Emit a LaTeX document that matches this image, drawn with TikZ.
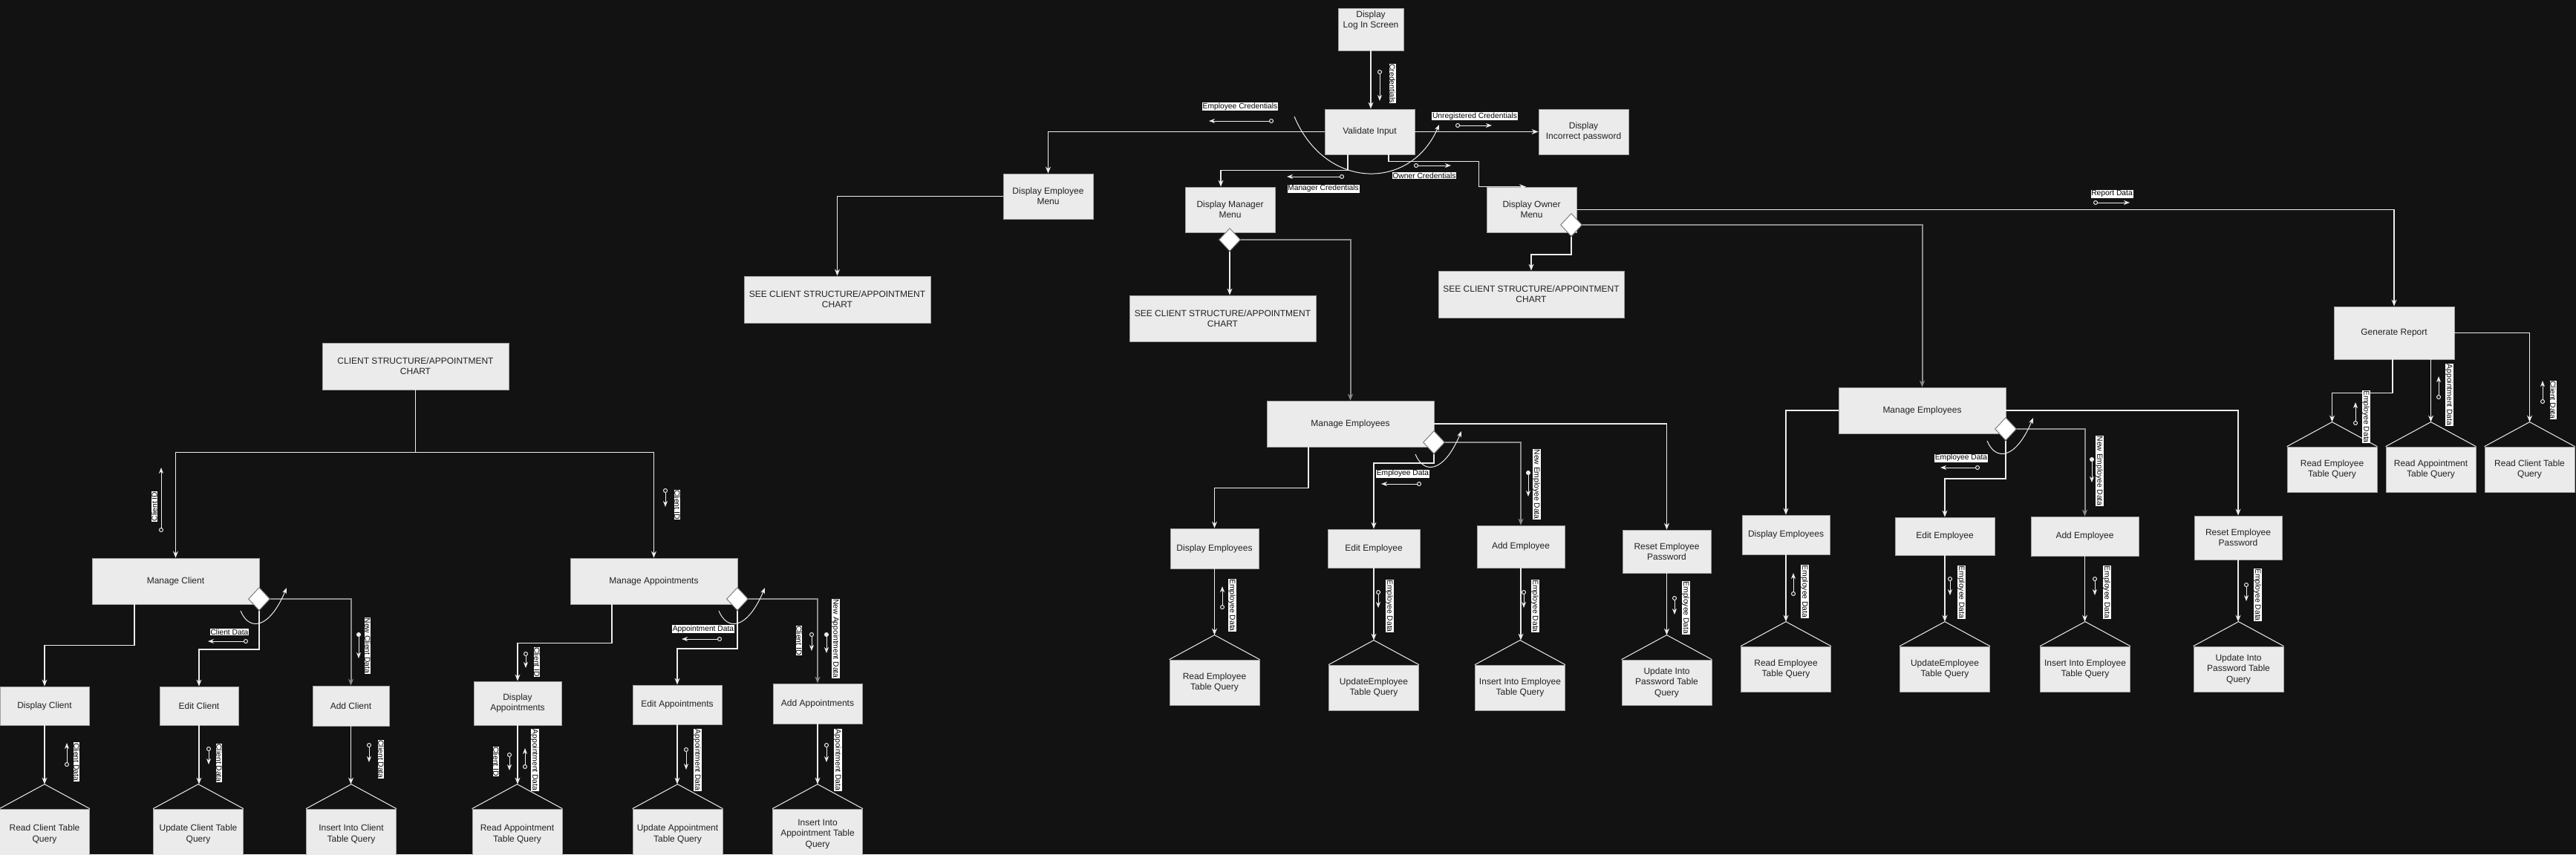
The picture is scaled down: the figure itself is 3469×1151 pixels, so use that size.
\documentclass[tikz,border=0pt]{standalone}
\usepackage{fontspec}
\setmainfont{Liberation Sans}
\usetikzlibrary{arrows.meta,shapes.geometric}
\definecolor{bgdark}{HTML}{121212}
\definecolor{boxfill}{HTML}{EBEBEB}
\definecolor{boxedge}{HTML}{A0A0A0}
\definecolor{boxtext}{HTML}{222222}
\definecolor{wire}{HTML}{EDEDED}
\definecolor{wiregray}{HTML}{8C8C8C}

\begin{document}
\begin{tikzpicture}[x=1pt, y=-1pt,
  box/.style 2 args={rectangle, fill=boxfill, draw=boxedge, line width=0.8pt, text=boxtext, align=center, inner sep=2pt, font=\fontsize{12}{14.4}\selectfont, minimum width=#1pt, minimum height=#2pt},
  query/.style={box={121}{61}},
  lowquery/.style={box={121}{68}},
  dia/.style={diamond, fill=white, draw=gray, line width=1pt, inner sep=0pt, minimum width=29pt, minimum height=31pt},
  tri/.style={draw=wire, line width=1pt},
  flow/.style={draw=wire, line width=1.2pt, -{Stealth[length=9pt,width=7pt,inset=3pt]}},
  thickflow/.style={flow, draw=wiregray, line width=2pt},
  iter/.style={draw=wire, line width=1pt, -{Stealth[length=8pt,width=6pt,inset=2.5pt]}},
  couple/.style={draw=wire, line width=1pt, {Circle[open,length=6pt,width=6pt]}-{Stealth[length=8pt,width=6pt,inset=2.5pt]}},
  flag/.style={draw=wire, line width=1pt, {Circle[length=6pt,width=6pt]}-{Stealth[length=8pt,width=6pt,inset=2.5pt]}},
  lbl/.style={fill=white, text=black, inner sep=0.7pt, font=\fontsize{10.3}{12}\selectfont}]

\useasboundingbox (0,0) rectangle (3469,1151);
\fill[bgdark] (0,0) rectangle (3469,1151);

\node[box={88}{57}, text depth=27pt] (login) at (1846,39.5) {Display\\Log In Screen};
\node[box={121}{61}] (validate) at (1844.5,177.5) {Validate Input};
\node[box={121}{61}] (incorrect) at (2132.5,177.5) {Display\\Incorrect password};
\node[box={121}{61}] (empmenu) at (1411.5,264.5) {Display Employee\\Menu};
\node[box={121}{61}] (mgrmenu) at (1656.5,282.5) {Display Manager\\Menu};
\node[box={121}{61}] (ownmenu) at (2062.5,282.5) {Display Owner\\Menu};
\node[box={251}{63}] (see1) at (1127.5,403.5) {SEE CLIENT STRUCTURE/APPOINTMENT\\CHART};
\node[box={251}{62}] (see2) at (1646.5,429) {SEE CLIENT STRUCTURE/APPOINTMENT\\CHART};
\node[box={250}{63}] (see3) at (2062,396.5) {SEE CLIENT STRUCTURE/APPOINTMENT\\CHART};
\node[dia] (mgrdia) at (1656,323) {};
\node[dia] (owndia) at (2116,303) {};
\node[box={162}{71}] (generate) at (3224,448.5) {Generate Report};
\node[query] (rptemp) at (3140.5,632.5) {Read Employee\\Table Query};
\node[query] (rptappt) at (3273.5,632.5) {Read Appointment\\Table Query};
\node[query] (rptclient) at (3406.5,632.5) {Read Client Table\\Query};

\node[box={251}{63}] (csa) at (559.5,493.5) {CLIENT STRUCTURE/APPOINTMENT\\CHART};
\node[box={225}{62}] (mclient) at (236.5,783) {Manage Client};
\node[box={225}{62}] (mappt) at (880.5,783) {Manage Appointments};
\node[dia] (cdia) at (349,807) {};
\node[dia] (adia) at (993,807) {};
\node[box={120}{52}] (dclient) at (60,951) {Display Client};
\node[box={106}{52}] (eclient) at (268,951) {Edit Client};
\node[box={103}{54}] (aclient) at (472.5,951) {Add Client};
\node[box={118}{59}] (dappt) at (697,947.5) {Display\\Appointments};
\node[box={120}{53}] (eappt) at (912,949.5) {Edit Appointments};
\node[box={120}{54}] (aappt) at (1101,948) {Add Appointments};
\node[lowquery] (qrclient) at (60,1124) {Read Client Table\\Query};
\node[lowquery] (quclient) at (267,1124) {Update Client Table\\Query};
\node[lowquery] (qiclient) at (473,1124) {Insert Into Client\\Table Query};
\node[lowquery] (qrappt) at (696.5,1124) {Read Appointment\\Table Query};
\node[lowquery] (quappt) at (912.5,1124) {Update Appointment\\Table Query};
\node[lowquery] (qiappt) at (1101,1124) {Insert Into\\Appointment Table\\Query};

\node[box={225}{62}] (memp) at (1818.5,571) {Manage Employees};
\node[dia] (mdia) at (1931,596) {};
\node[box={119}{54}] (demp) at (1635.5,739) {Display Employees};
\node[box={124}{52}] (eemp) at (1850,739) {Edit Employee};
\node[box={118}{57}] (aemp) at (2048,736.5) {Add Employee};
\node[box={119}{58}] (remp) at (2244.5,743) {Reset Employee\\Password};
\node[query] (qremp) at (1635.5,919.5) {Read Employee\\Table Query};
\node[query] (queemp) at (1850,926.5) {UpdateEmployee\\Table Query};
\node[query] (qiemp) at (2047,926.5) {Insert Into Employee\\Table Query};
\node[query] (qupw) at (2244.5,919.5) {Update Into\\Password Table\\Query};

\node[box={225}{62}] (oemp) at (2588.5,553) {Manage Employees};
\node[dia] (odia) at (2701,578) {};
\node[box={118}{53}] (doemp) at (2405,720.5) {Display Employees};
\node[box={134}{51}] (eoemp) at (2619,722.5) {Edit Employee};
\node[box={145}{53}] (aoemp) at (2807.5,722.5) {Add Employee};
\node[box={118}{59}] (roemp) at (3014,724.5) {Reset Employee\\Password};
\node[query] (qroemp) at (2405,901.5) {Read Employee\\Table Query};
\node[query] (quoemp) at (2619,901.5) {UpdateEmployee\\Table Query};
\node[query] (qioemp) at (2808,901.5) {Insert Into Employee\\Table Query};
\node[query] (qopw) at (3014.5,901.5) {Update Into\\Password Table\\Query};

\foreach \q in {rptemp,rptappt,rptclient,qrclient,quclient,qiclient,qrappt,quappt,qiappt,qremp,queemp,qiemp,qupw,qroemp,quoemp,qioemp,qopw}{
  \coordinate (\q-top) at ([yshift=33pt]\q.north);
  \draw[tri] (\q.north west) -- (\q-top) -- (\q.north east);
}

\draw[flow] (login.south) -- (login.south |- validate.north);
\draw[flow] (validate.west) -| (empmenu.north);
\draw[flow] (validate.east) -- (incorrect.west);
\draw[flow] ([xshift=-29.5pt]validate.south) -- ++(0,21) -| ([xshift=-12.5pt]mgrmenu.north);
\draw[flow] ([xshift=25.5pt]validate.south) -- ++(0,9) -| ([xshift=-10pt]ownmenu.north west) -- ([xshift=-7.5pt]ownmenu.north);
\draw[flow] (empmenu.west) -| (see1.north);
\draw[flow] (mgrdia.south) -- (mgrdia.south |- see2.north);
\draw[thickflow] (mgrdia.east) -| (memp.north);
\draw[flow] (owndia.south) -- ++(0,24) -| (see3.north);
\draw[thickflow] (owndia.east) -| (oemp.north);
\draw[flow] (ownmenu.east) -| (generate.north);
\draw[flow] ([xshift=-2pt]generate.south) -- ++(0,45) -| (rptemp-top);
\draw[flow] (rptappt-top |- generate.south) -- (rptappt-top);
\draw[flow] (generate.east) -| (rptclient-top);

\draw[flow] (csa.south) -- ++(0,84) -| (mclient.north);
\draw[flow] (csa.south) -- ++(0,84) -| (mappt.north);
\draw[flow] ([xshift=-55.5pt]mclient.south) -- ++(0,55) -| (dclient.north);
\draw[flow] (cdia.south) -- ++(0,52) -| (eclient.north);
\draw[thickflow] (cdia.east) -| (aclient.north);
\draw[flow] ([xshift=-56.5pt]mappt.south) -- ++(0,52) -| (dappt.north);
\draw[flow] (adia.south) -- ++(0,51) -| (eappt.north);
\draw[thickflow] (adia.east) -| (aappt.north);

\draw[flow] (memp.east) -| (remp.north);
\draw[flow] ([xshift=-56.5pt]memp.south) -- ++(0,55) -| (demp.north);
\draw[flow] (mdia.south) -- ++(0,12) -| (eemp.north);
\draw[thickflow] (mdia.east) -| (aemp.north);

\draw[flow] (oemp.west) -| (doemp.north);
\draw[flow] (oemp.east) -| (roemp.north);
\draw[thickflow] (odia.east) -| (aoemp.north);
\draw[flow] (odia.south) -- ++(0,51) -| (eoemp.north);

\foreach \p/\q in {dclient/qrclient,eclient/quclient,aclient/qiclient,dappt/qrappt,eappt/quappt,aappt/qiappt,demp/qremp,eemp/queemp,aemp/qiemp,remp/qupw,doemp/qroemp,eoemp/quoemp,aoemp/qioemp,roemp/qopw}
  \draw[flow] (\p.south) -- (\p.south |- \q-top);

\draw[iter] ([shift={(-101.5,-20.5)}]validate.center) .. controls +(42,100) and +(-38,89) .. ([shift={(93.5,-9.5)}]validate.center);
\foreach \d in {cdia,adia,mdia,odia}
  \draw[iter] ([shift={(-25,16)}]\d.center) .. controls +(11,27) and +(-24,57) .. ([shift={(37,-15)}]\d.center);

\draw[couple] (1858,94) -- (1858,136);
\node[lbl, rotate=-90] (lcred) at (1875,112.5) {Credentials};
\draw[couple] (1715,163) -- (1628,163);
\node[lbl] (lempcred) at (1670,143.5) {Employee Credentials};
\draw[couple] (1960,169) -- (2009,169);
\node[lbl] (lunreg) at (1986,156.5) {Unregistered Credentials};
\draw[couple] (1810,238) -- (1733,238);
\node[lbl] (lmgrcred) at (1782,254) {Manager Credentials};
\draw[couple] (1904,223) -- (1954,223);
\node[lbl] (lowncred) at (1918,236.5) {Owner Credentials};
\draw[couple] (2819,273) -- (2868,273);
\node[lbl] (lreport) at (2844,261.5) {Report Data};
\draw[couple] (3172,573) -- (3172,542);
\node[lbl, rotate=-90] (lrptemp) at (3186,561.5) {Employee Data};
\draw[couple] (3284,538) -- (3284,507);
\node[lbl, rotate=-90] (lrptappt) at (3298,532) {Appointment Data};
\draw[couple] (3424,544) -- (3424,513);
\node[lbl, rotate=-90] (lrptclient) at (3438,539) {Client Data};

\draw[couple] (217,717) -- (217,630);
\node[lbl, rotate=90] (lcid1) at (208,682.5) {Client ID};
\draw[couple] (896,658) -- (896,683);
\node[lbl, rotate=-90] (lcid2) at (912,680) {Client ID};
\draw[couple] (334,864) -- (280,864);
\node[lbl] (lcdata1) at (309,851.5) {Client Data};
\draw[flag] (483,852) -- (483,887);
\node[lbl, rotate=-90] (lnewc) at (495,870) {New Client Data};
\draw[couple] (90,1033) -- (90,1001);
\node[lbl, rotate=-90] (lcdata2) at (103,1026.5) {Client Data};
\draw[couple] (281,1006) -- (281,1030);
\node[lbl, rotate=-90] (lcdata3) at (295,1028) {Client Data};
\draw[couple] (497,1001) -- (497,1027);
\node[lbl, rotate=-90] (lcdata4) at (513,1023) {Client Data};
\draw[couple] (708,878) -- (708,900);
\node[lbl, rotate=-90] (lcid3) at (723,892) {Client ID};
\draw[couple] (972,861) -- (918,861);
\node[lbl] (ladata1) at (947,847.5) {Appointment Data};
\draw[couple] (1093,852) -- (1093,877);
\node[lbl, rotate=-90] (lcid4) at (1076,863) {Client ID};
\draw[flag] (1113,852) -- (1113,880);
\node[lbl, rotate=-90] (lnewa) at (1125,860.5) {New Appointment Data};
\draw[couple] (686,1014) -- (686,1038);
\node[lbl, rotate=-90] (lcid5) at (668,1026) {Client ID};
\draw[couple] (707,1036) -- (707,1008);
\node[lbl, rotate=-90] (ladata2) at (720,1024) {Appointment Data};
\draw[couple] (924,1007) -- (924,1037);
\node[lbl, rotate=-90] (ladata3) at (939,1024) {Appointment Data};
\draw[couple] (1113,1001) -- (1113,1027);
\node[lbl, rotate=-90] (ladata4) at (1128,1024) {Appointment Data};

\draw[couple] (1914,652) -- (1860,652);
\node[lbl] (ledata1) at (1889,638) {Employee Data};
\draw[flag] (2058,634) -- (2058,669);
\node[lbl, rotate=-90] (lnewe1) at (2069,652.5) {New Employee Data};
\draw[couple] (1646,821) -- (1646,790);
\node[lbl, rotate=-90] (ledata2) at (1659,815.5) {Employee Data};
\draw[couple] (1856,795) -- (1856,819);
\node[lbl, rotate=-90] (ledata3) at (1871,816.5) {Employee Data};
\draw[couple] (2052,795) -- (2052,819);
\node[lbl, rotate=-90] (ledata4) at (2067,816.5) {Employee Data};
\draw[couple] (2255,803) -- (2255,828);
\node[lbl, rotate=-90] (ledata5) at (2270,819) {Employee Data};

\draw[couple] (2666,630) -- (2613,630);
\node[lbl] (loedata1) at (2641,617) {Employee Data};
\draw[flag] (2817,616) -- (2817,650);
\node[lbl, rotate=-90] (lnewe2) at (2827,634.5) {New Employee Data};
\draw[couple] (2415,803) -- (2415,772);
\node[lbl, rotate=-90] (loedata2) at (2430,797) {Employee Data};
\draw[couple] (2626,777) -- (2626,802);
\node[lbl, rotate=-90] (loedata3) at (2641,798) {Employee Data};
\draw[couple] (2821,777) -- (2821,802);
\node[lbl, rotate=-90] (loedata4) at (2837,798) {Employee Data};
\draw[couple] (3025,785) -- (3025,810);
\node[lbl, rotate=-90] (loedata5) at (3040,801.5) {Employee Data};
\end{tikzpicture}
\end{document}
